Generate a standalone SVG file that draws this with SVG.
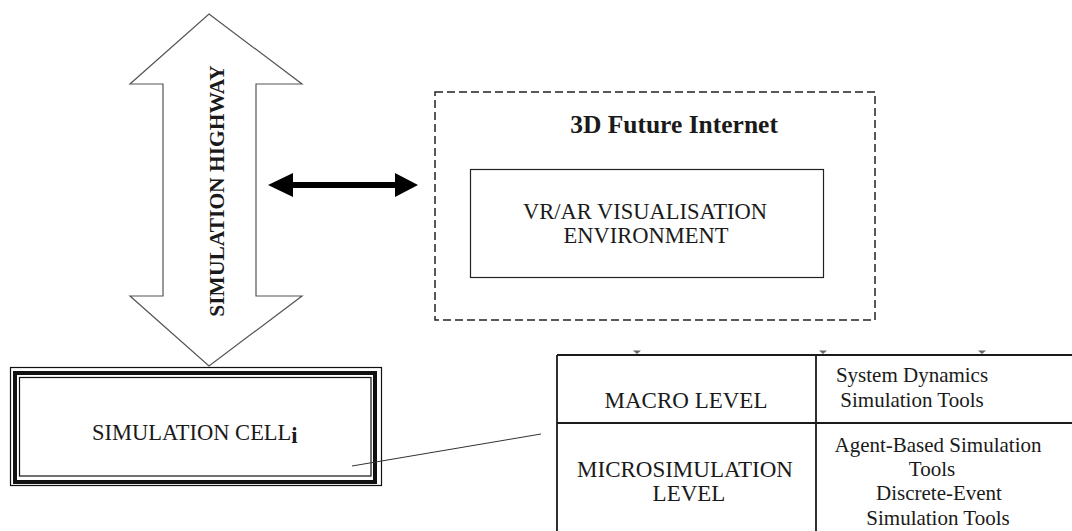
<svg xmlns="http://www.w3.org/2000/svg" width="1072" height="531" viewBox="0 0 1072 531">
  <style>
    .t { font-family: "Liberation Serif", "Times New Roman", serif; fill: #1a1a1a; }
    .b { font-weight: bold; }
    .c { text-anchor: middle; }
    .line { fill: none; stroke: #1a1a1a; }
    .r { font-size: 21px; }
    .l { font-size: 23px; }
  </style>
  <rect width="1072" height="531" fill="#fff"/>

  <!-- vertical block double arrow -->
  <g id="simulation-highway">
    <polygon points="209,14 302,84 256,84 256,296 302,296 209,366 130,296 163,296 163,84 130,84" fill="#fff" stroke="#555" stroke-width="1.2"/>
    <text class="t b c" font-size="21.5" transform="translate(224,191) rotate(-90)">SIMULATION HIGHWAY</text>
  </g>

  <!-- dashed container with the visualisation box -->
  <g id="future-internet">
    <rect x="435" y="92" width="440" height="228" fill="none" stroke="#222" stroke-width="1.5" stroke-dasharray="8,4"/>
    <text class="t b c" x="674" y="133" font-size="25.5">3D Future Internet</text>
  </g>
  <g id="vr-ar-environment">
    <rect x="470.5" y="169.5" width="353" height="108" fill="#fff" stroke="#222" stroke-width="1.2"/>
    <text class="t c" x="645" y="219" font-size="22.5">VR/AR VISUALISATION</text>
    <text class="t c" x="646" y="243" font-size="22.5">ENVIRONMENT</text>
  </g>

  <!-- triple-bordered cell -->
  <g id="simulation-cell">
    <rect x="10.5" y="367.5" width="371" height="118" fill="#fff" stroke="#111" stroke-width="1.2"/>
    <rect x="15" y="373" width="360" height="109" fill="none" stroke="#111" stroke-width="4"/>
    <rect x="19.5" y="377.5" width="351.5" height="98.5" fill="none" stroke="#111" stroke-width="1.2"/>
    <text class="t" x="92" y="440" font-size="22.5">SIMULATION CELL<tspan class="b" dy="3">i</tspan></text>
  </g>

  <!-- levels table -->
  <g id="levels-table">
    <path class="line" stroke-width="1.8" d="M557,355 H1072 M557,355 V531 M816,355 V531 M557,423 H1072"/>
    <g fill="#666">
      <path d="M633,350.5 L641,350.5 L637,354 z"/>
      <path d="M819,350.5 L827,350.5 L823,354 z"/>
      <path d="M978,350.5 L986,350.5 L982,354 z"/>
    </g>
    <text class="t c l" x="686" y="408">MACRO LEVEL</text>
    <text class="t c r" x="912" y="382">System Dynamics</text>
    <text class="t c r" x="912" y="407">Simulation Tools</text>
    <text class="t c l" x="685" y="477">MICROSIMULATION</text>
    <text class="t c l" x="689" y="501">LEVEL</text>
    <text class="t c r" x="938" y="452">Agent-Based Simulation</text>
    <text class="t c r" x="932" y="476">Tools</text>
    <text class="t c r" x="939" y="500">Discrete-Event</text>
    <text class="t c r" x="938" y="525">Simulation Tools</text>
  </g>

  <!-- connectors -->
  <g id="connectors">
    <polygon points="268,185 293,173 293,182 395,182 395,173 418,185 395,197 395,188 293,188 293,197" fill="#000"/>
    <line x1="352" y1="466" x2="541" y2="434" stroke="#333" stroke-width="1"/>
  </g>
</svg>
